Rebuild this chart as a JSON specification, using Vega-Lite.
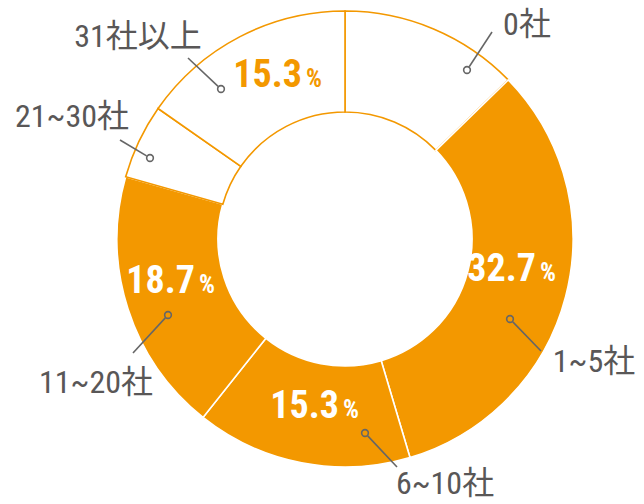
{
  "$schema": "https://vega.github.io/schema/vega-lite/v6.json",
  "width": 598,
  "height": 478,
  "autosize": {"type": "none"},
  "padding": {"left": 46, "top": 0, "right": 0, "bottom": 26},
  "background": "white",
  "config": {"view": {"stroke": null}},
  "datasets": {
    "shares": [
      {"cat": "0社", "value": 12.7},
      {"cat": "1~5社", "value": 32.7},
      {"cat": "6~10社", "value": 15.3},
      {"cat": "11~20社", "value": 18.7},
      {"cat": "21~30社", "value": 5.3},
      {"cat": "31社以上", "value": 15.3}
    ],
    "callouts": [
      {"cat": "0社", "mx": 122, "my": 169, "sx": 124.2, "sy": 172.3, "ex": 147, "ey": 207, "lx": 182, "ly": 214, "px": null, "py": null},
      {"cat": "1~5社", "mx": 165, "my": -80, "sx": 167.8, "sy": -82.9, "ex": 196, "ey": -112, "lx": 249, "ly": -123, "px": 172, "py": -28},
      {"cat": "6~10社", "mx": 20, "my": -194, "sx": 22.7, "sy": -196.9, "ex": 52, "ey": -228, "lx": 100, "ly": -245, "px": -25, "py": -165},
      {"cat": "11~20社", "mx": -177, "my": -76, "sx": -179.7, "sy": -78.9, "ex": -212, "ey": -114, "lx": -249, "ly": -144, "px": -169, "py": -40},
      {"cat": "21~30社", "mx": -195, "my": 81, "sx": -198.4, "sy": 83.1, "ex": -225, "ey": 99, "lx": -273, "ly": 122, "px": null, "py": null},
      {"cat": "31社以上", "mx": -124, "my": 150, "sx": -126.9, "sy": 152.7, "ex": -157, "ey": 181, "lx": -207, "ly": 202, "px": -62, "py": 166}
    ]
  },
  "layer": [
    {
      "data": {"name": "shares"},
      "transform": [{"window": [{"op": "row_number", "as": "rank"}]}],
      "mark": {"type": "arc", "innerRadius": 127, "outerRadius": 228, "strokeWidth": 1.6},
      "encoding": {
        "theta": {"field": "value", "type": "quantitative", "stack": true},
        "order": {"field": "rank", "type": "quantitative"},
        "color": {
          "field": "cat", "type": "nominal", "legend": null,
          "scale": {
            "domain": ["0社", "1~5社", "6~10社", "11~20社", "21~30社", "31社以上"],
            "range": ["#ffffff", "#F39800", "#F39800", "#F39800", "#ffffff", "#ffffff"]
          }
        },
        "stroke": {
          "field": "cat", "type": "nominal", "legend": null,
          "scale": {
            "domain": ["0社", "1~5社", "6~10社", "11~20社", "21~30社", "31社以上"],
            "range": ["#F39800", "#ffffff", "#ffffff", "#ffffff", "#F39800", "#F39800"]
          }
        }
      }
    },
    {
      "data": {"name": "callouts"},
      "mark": {"type": "rule", "color": "#666666", "strokeWidth": 1.6},
      "encoding": {
        "x": {"field": "sx", "type": "quantitative", "axis": null, "scale": {"domain": [-299, 299], "nice": false, "zero": false}},
        "y": {"field": "sy", "type": "quantitative", "axis": null, "scale": {"domain": [-239, 239], "nice": false, "zero": false}},
        "x2": {"field": "ex"},
        "y2": {"field": "ey"}
      }
    },
    {
      "data": {"name": "callouts"},
      "mark": {"type": "point", "shape": "circle", "filled": false, "size": 45, "color": "#666666", "strokeWidth": 1.6, "opacity": 1},
      "encoding": {
        "x": {"field": "mx", "type": "quantitative"},
        "y": {"field": "my", "type": "quantitative"}
      }
    },
    {
      "data": {"name": "callouts"},
      "mark": {"type": "text", "align": "center", "baseline": "middle", "fontSize": 32, "font": "'Roboto Condensed', 'Liberation Sans Narrow', 'Noto Sans CJK JP', sans-serif", "color": "#595757"},
      "encoding": {
        "x": {"field": "lx", "type": "quantitative"},
        "y": {"field": "ly", "type": "quantitative"},
        "text": {"field": "cat"}
      }
    },
    {
      "data": {"name": "callouts"},
      "transform": [
        {"filter": "datum.px != null"},
        {"lookup": "cat", "from": {"data": {"name": "shares"}, "key": "cat", "fields": ["value"]}}
      ],
      "mark": {"type": "text", "align": "right", "baseline": "alphabetic", "dx": 19, "dy": 14, "fontSize": 38, "fontWeight": "bold", "font": "'Roboto Condensed', 'Liberation Sans Narrow', Roboto, sans-serif"},
      "encoding": {
        "x": {"field": "px", "type": "quantitative"},
        "y": {"field": "py", "type": "quantitative"},
        "text": {"field": "value", "type": "quantitative", "format": ".1f"},
        "color": {"condition": {"test": "datum.cat === '31社以上'", "value": "#F39800"}, "value": "#ffffff"}
      }
    },
    {
      "data": {"name": "callouts"},
      "transform": [{"filter": "datum.px != null"}],
      "mark": {"type": "text", "align": "left", "baseline": "alphabetic", "dx": 23, "dy": 14, "fontSize": 25, "fontWeight": "bold", "font": "'Roboto Condensed', 'Liberation Sans Narrow', Roboto, sans-serif", "text": "%"},
      "encoding": {
        "x": {"field": "px", "type": "quantitative"},
        "y": {"field": "py", "type": "quantitative"},
        "color": {"condition": {"test": "datum.cat === '31社以上'", "value": "#F39800"}, "value": "#ffffff"}
      }
    }
  ]
}
